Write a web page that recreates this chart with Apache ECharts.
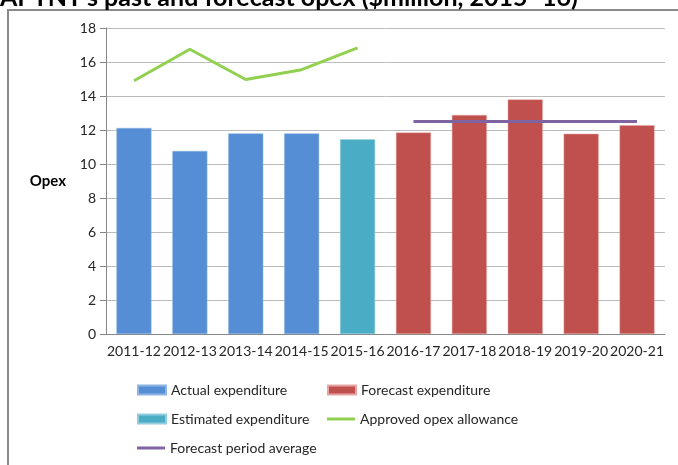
<!DOCTYPE html>
<html>
<head>
<meta charset="utf-8">
<script src="https://cdn.jsdelivr.net/npm/echarts@6/dist/echarts.min.js"></script>
<style>
  html, body { margin: 0; padding: 0; background: #fff; }
  #chart { width: 678px; height: 465px; }
</style>
</head>
<body>
<div id="chart"></div>
<script>
// values ($million)
const years = ['2011-12', '2012-13', '2013-14', '2014-15', '2015-16',
  '2016-17', '2017-18', '2018-19', '2019-20', '2020-21'];
const actual = [12.12, 10.77, 11.8, 11.8, null, null, null, null, null, null];
const estimated = [null, null, null, null, 11.45, null, null, null, null, null];
const forecast = [null, null, null, null, null, 11.85, 12.88, 13.8, 11.78, 12.28];
const approved = [14.9, 16.75, 14.97, 15.55, 16.83, null, null, null, null, null];
const periodAvg = [null, null, null, null, null, 12.5, 12.5, 12.5, 12.5, 12.5];

const FONT = 'Lato, "Liberation Sans", sans-serif';
const TXT = '#262626';

// one legend per entry so each sits where the picture has it
function legendAt(name, left, top, lineIcon) {
  return {
    left: left, top: top, padding: 0,
    icon: 'rect',
    itemWidth: 28, itemHeight: lineIcon ? 3 : 9, itemTextGap: 4,
    textStyle: { fontSize: 14, color: TXT, fontFamily: FONT, lineHeight: 18 },
    data: [name]
  };
}

const chart = echarts.init(document.getElementById('chart'));

chart.setOption({
  animation: false,
  textStyle: { fontFamily: FONT, color: TXT },
  graphic: [
    {
      type: 'rect',
      shape: { x: 8, y: 10, width: 720, height: 520 },
      style: { fill: 'none', stroke: '#8a8a8a', lineWidth: 2 },
      silent: true
    },
    {
      type: 'text',
      left: 0, top: -15,
      style: {
        text: 'APTNT\u2019s past and forecast opex ($million, 2015\u201316)',
        font: 'bold 25px ' + FONT,
        fill: '#000'
      }
    }
  ],
  grid: { left: 106, right: 13, top: 28, bottom: 131 },
  legend: [
    legendAt('Actual expenditure', 137, 381, false),
    legendAt('Estimated expenditure', 137, 410, false),
    legendAt('Forecast period average', 137, 439, true),
    legendAt('Forecast expenditure', 327, 381, false),
    legendAt('Approved opex allowance', 327, 410, true)
  ],
  xAxis: {
    type: 'category',
    data: years,
    axisLine: { lineStyle: { color: '#868686' } },
    axisTick: { length: 6, lineStyle: { color: '#868686' } },
    axisLabel: { interval: 0, fontSize: 14, color: TXT, margin: 10, hideOverlap: false }
  },
  yAxis: {
    type: 'value',
    min: 0, max: 18, interval: 2,
    name: 'Opex',
    nameLocation: 'middle',
    nameRotate: 0,
    nameGap: 40,
    nameTextStyle: { fontWeight: 'bold', fontSize: 15, color: '#000' },
    axisLine: { show: true, lineStyle: { color: '#868686' } },
    axisTick: { show: true, length: 6, lineStyle: { color: '#868686' } },
    axisLabel: { fontSize: 14, color: TXT, margin: 10 },
    splitLine: { lineStyle: { color: '#bcbcbc' } }
  },
  series: [
    {
      name: 'Actual expenditure', type: 'bar', stack: 'opex', barWidth: 35,
      data: actual, itemStyle: { color: '#558ed5', borderColor: '#8fb4e3', borderWidth: 0.5 }
    },
    {
      name: 'Estimated expenditure', type: 'bar', stack: 'opex', barWidth: 35,
      data: estimated, itemStyle: { color: '#4bacc6', borderColor: '#93cddd', borderWidth: 0.5 }
    },
    {
      name: 'Forecast expenditure', type: 'bar', stack: 'opex', barWidth: 35,
      data: forecast, itemStyle: { color: '#c0504d', borderColor: '#e6a5a3', borderWidth: 0.5 }
    },
    {
      name: 'Approved opex allowance', type: 'line', symbol: 'none',
      data: approved, lineStyle: { color: '#92d050', width: 3 }, itemStyle: { color: '#92d050' }
    },
    {
      name: 'Forecast period average', type: 'line', symbol: 'none',
      data: periodAvg, lineStyle: { color: '#8064a2', width: 3 }, itemStyle: { color: '#8064a2' }
    }
  ]
});
</script>
</body>
</html>
